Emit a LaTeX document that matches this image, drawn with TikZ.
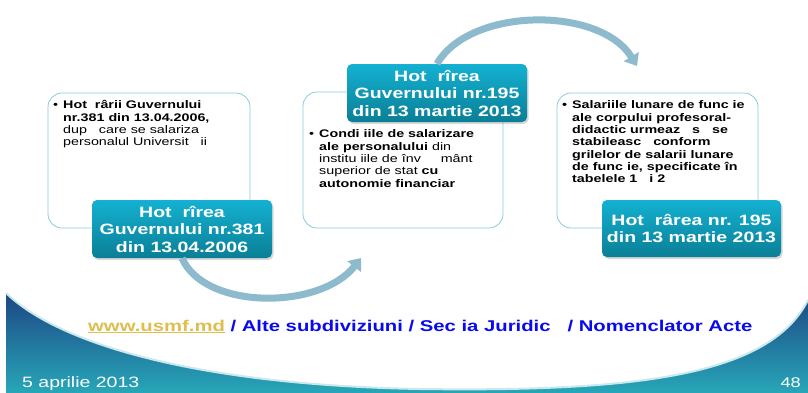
\documentclass[tikz,border=0pt]{standalone}
\usepackage{fontspec}
\setmainfont{Liberation Sans}[FakeStretch=1.3]
\usetikzlibrary{arrows.meta,shadows}
\definecolor{headtop}{HTML}{14B1D2}
\definecolor{headbot}{HTML}{0A7F96}
\definecolor{boxline}{HTML}{8CCBDD}
\definecolor{arcblue}{HTML}{8DBACD}
\definecolor{bandtop}{HTML}{1C3F80}
\definecolor{bandbot}{HTML}{27A6B8}
\definecolor{linkgold}{HTML}{DDBE4E}
\definecolor{linkblue}{HTML}{0A0AF0}

\begin{document}
\begin{tikzpicture}[x=1pt,y=-1pt,
  infobox/.style={draw=boxline,line width=0.8pt,fill=white,rounded corners=14pt,inner sep=0pt},
  headbox/.style={rounded corners=5pt,top color=headtop,bottom color=headbot,
    drop shadow={opacity=0.3,shadow xshift=1.5pt,shadow yshift=-2pt},
    text=white,font=\fontsize{15}{17.5}\selectfont\bfseries,align=center,
    minimum width=180pt,minimum height=58pt,inner sep=0pt},
  bodytext/.style={anchor=north west,inner sep=0pt,font=\fontsize{11}{12.3}\selectfont},
  arcline/.style={draw=arcblue,line width=7pt,-{Triangle[width=17pt,length=11pt]}}]
\useasboundingbox (0,0) rectangle (808,392);
\fill[white] (0,0) rectangle (808,392);

\fill[top color=bandtop,bottom color=bandbot] (6,286) rectangle (808,392);
\fill[white] (6,0) -- (6,293) .. controls (60,345) and (200,385) .. (420,389)
  .. controls (640,392) and (770,375) .. (808,300) -- (808,0) -- cycle;
\draw[line width=2pt,white!75!bandbot] (6,293) .. controls (60,345) and (200,385) .. (420,389)
  .. controls (640,392) and (770,375) .. (808,300);

\node[infobox,minimum width=202pt,minimum height=135pt] (box1) at (149,160.5) {};
\node[infobox,minimum width=200pt,minimum height=136pt] (box2) at (403,160) {};
\node[infobox,minimum width=201pt,minimum height=135pt] (box3) at (657.5,160.5) {};

\node[bodytext] (txt1) at (53,100) {\begin{tabular}{@{}l@{\hspace{5pt}}l@{}}
  \textbullet & \textbf{Hot\ \ rârii Guvernului}\\
  & \textbf{nr.381 din 13.04.2006,}\\
  & dup\ \ \ care se salariza\\
  & personalul Universit\ \ \ ii
  \end{tabular}};

\node[bodytext] (txt2) at (309,129) {\begin{tabular}{@{}l@{\hspace{5pt}}l@{}}
  \textbullet & \textbf{Condi iile de salarizare}\\
  & \textbf{ale personalului} din\\
  & institu iile de înv\ \ \ \ \ mânt\\
  & superior de stat \textbf{cu}\\
  & \textbf{autonomie financiar}
  \end{tabular}};

\node[bodytext,font=\fontsize{11}{12.3}\selectfont\bfseries] (txt3) at (562,100) {\begin{tabular}{@{}l@{\hspace{5pt}}l@{}}
  \textbullet & Salariile lunare de func ie\\
  & ale corpului profesoral-\\
  & didactic urmeaz\ \ \ s\ \ \ se\\
  & stabileasc\ \ \ conform\\
  & grilelor de salarii lunare\\
  & de func ie, specificate în\\
  & tabelele 1\ \ \ i 2
  \end{tabular}};

\node[headbox] (head1) at (182,229) {Hot\ \ rîrea\\Guvernului nr.381\\din 13.04.2006};
\node[headbox] (head2) at (437,93) {Hot\ \ rîrea\\Guvernului nr.195\\din 13 martie 2013};
\node[headbox,minimum width=179pt,minimum height=57pt] (head3) at (691.5,228.5) {Hot\ \ rârea nr. 195\\din 13 martie 2013};

\coordinate (tip1) at (361,258);
\coordinate (tip2) at (637,66);
\draw[arcline] (head1.south) .. controls +(23,52) and +(-41,52) .. (tip1);
\draw[arcline] (head2.north) .. controls +(33,-57) and +(-37,-60) .. (tip2);

\node[anchor=base west,inner sep=0pt,font=\fontsize{15.6}{17}\selectfont\bfseries] (link) at (88,331)
  {\textcolor{linkgold}{\underline{www.usmf.md}} \textcolor{linkblue}{/ Alte subdiviziuni / Sec ia Juridic\ \ \ / Nomenclator Acte}};
\node[anchor=base west,inner sep=0pt,text=white,font=\fontsize{15}{17}\selectfont] (date) at (22,387) {5 aprilie 2013};
\node[anchor=base east,inner sep=0pt,text=white,font=\fontsize{14}{16}\selectfont] (page) at (801,387) {48};
\end{tikzpicture}
\end{document}
